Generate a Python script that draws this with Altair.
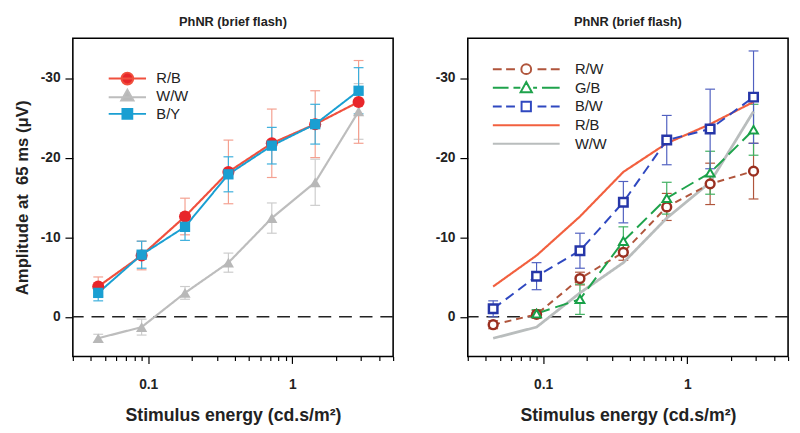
import altair as alt
import pandas as pd

# ---------------- data ----------------
energy = [0.045, 0.09, 0.18, 0.36, 0.72, 1.44, 2.88]

# left panel
rb_amp = [-3.8, -7.7, -12.6, -18.2, -21.8, -24.2, -27.0]
rb_err = [1.2, 1.8, 2.3, 4.0, 4.3, 4.2, 5.2]
ww_amp = [2.7, 1.3, -3.0, -6.8, -12.4, -16.9, -25.8]
ww_err = [0.5, 1.0, 0.8, 1.2, 1.9, 2.9, 3.5]
by_amp = [-3.0, -7.8, -11.3, -17.9, -21.5, -24.2, -28.4]
by_err = [1.0, 1.7, 1.7, 2.2, 2.3, 2.5, 2.9]

# right panel
rw_amp = [1.0, -0.3, -4.8, -8.1, -13.8, -16.7, -18.3]
rw_err = [0.5, 0.5, 0.8, 1.0, 1.7, 2.6, 3.5]
gb_energy = [0.09, 0.18, 0.36, 0.72, 1.44, 2.88]
gb_amp = [-0.4, -2.2, -9.5, -14.9, -18.1, -23.5]
gb_err = [0.5, 1.9, 1.8, 2.0, 2.7, 3.2]
bw_amp = [-1.0, -5.1, -8.3, -14.4, -22.2, -23.6, -27.6]
bw_err = [1.0, 1.7, 2.2, 2.6, 3.1, 5.0, 5.8]

left_names = ["R/B", "W/W", "B/Y"]
right_names = ["R/W", "G/B", "B/W", "R/B", "W/W"]

x_ticks = [0.03, 0.04, 0.05, 0.06, 0.07, 0.08, 0.09, 0.1, 0.2, 0.3, 0.4, 0.5,
           0.6, 0.7, 0.8, 0.9, 1, 2, 3, 4, 5]
y_ticks = [-30, -20, -10, 0]

panel_title = "PhNR (brief flash)"
x_title = "Stimulus energy (cd.s/m²)"
y_title = "Amplitude at\u00a0 65 ms (μV)"


def long_df(series):
    rows = []
    for name, xs, amps, errs in series:
        for xv, a, e in zip(xs, amps, errs):
            rows.append({"series": name, "energy": xv, "amp": a,
                         "lo": a - e, "hi": a + e})
    return pd.DataFrame(rows)


left_df = long_df([("R/B", energy, rb_amp, rb_err),
                   ("W/W", energy, ww_amp, ww_err),
                   ("B/Y", energy, by_amp, by_err)])
right_df = long_df([("R/W", energy, rw_amp, rw_err),
                    ("G/B", gb_energy, gb_amp, gb_err),
                    ("B/W", energy, bw_amp, bw_err),
                    ("R/B", energy, rb_amp, [0] * 7),
                    ("W/W", energy, ww_amp, [0] * 7)])
zero_df = pd.DataFrame({"amp": [0]})
legend_left_df = pd.DataFrame({"series": left_names})
legend_right_df = pd.DataFrame({"series": right_names})

# ---------------- styling ----------------
FONT = "Liberation Sans"

left_line = {"R/B": "#f0503e", "W/W": "#bdbdbd", "B/Y": "#1a9fd2"}
left_mark = {"R/B": "#e8262a", "W/W": "#b8b8b8", "B/Y": "#1a9fd2"}
left_errc = {"R/B": "#f4a090", "W/W": "#cccccc", "B/Y": "#3aaedc"}
right_line = {"R/W": "#b0553c", "G/B": "#1fa34c", "B/W": "#2f48c0",
              "R/B": "#f2603f", "W/W": "#b9bdbd"}
right_mark = {"R/W": "#9a2f20", "G/B": "#18a048", "B/W": "#2636a8"}
right_errc = {"R/W": "#b0553c", "G/B": "#3fb060", "B/W": "#5060c0"}

xscale = alt.Scale(type="log", domain=[0.03, 5], nice=False)
yscale = alt.Scale(domain=[-35, 5], reverse=True, nice=False, zero=False)

xaxis = alt.Axis(
    values=x_ticks,
    labelExpr="datum.value == 1 ? '1' : (datum.value == 0.1 ? '0.1' : '')",
    tickSize={"condition": {"test": "datum.value == 0.1 || datum.value == 1",
                            "value": 7}, "value": 4},
    tickColor="black", tickWidth=1.2, domain=False, grid=False,
    labelOverlap=False, labelFlush=False, labelPadding=15,
    labelFont=FONT, labelFontSize=14, labelFontWeight="bold", labelColor="#222",
    title=x_title, titleFont=FONT, titleFontSize=18, titleFontWeight="bold",
    titleColor="#222", titlePadding=15,
)


def yaxis(with_title):
    kw = dict(values=y_ticks, tickSize=8, tickColor="black", tickWidth=1.2,
              domain=False, grid=False, labelPadding=5,
              labelExpr="datum.value == 0 ? '0' : '-' + abs(datum.value)",
              labelFont=FONT, labelFontSize=14, labelFontWeight="bold",
              labelColor="#222")
    if with_title:
        kw.update(title=y_title, titleFont=FONT, titleFontSize=17,
                  titleFontWeight="bold", titleColor="#222", titlePadding=9)
    else:
        kw.update(title=None)
    return alt.Axis(**kw)


def X():
    return alt.X("energy:Q", scale=xscale, axis=xaxis)


def panel(df, with_ytitle, err_specs, line_specs, point_specs,
          legend_df, legend_paths, legend_fill, legend_stroke, legend_pos):
    ycol = lambda f: alt.Y(f, scale=yscale, axis=yaxis(with_ytitle))
    Y = ycol("amp:Q")

    layers = [alt.Chart(zero_df).mark_rule(strokeDash=[13, 8], color="#222",
                                           strokeWidth=1.6).encode(y=Y)]
    for name, col in err_specs:
        sub = alt.Chart(df).transform_filter(alt.datum.series == name)
        layers.append(sub.mark_rule(strokeWidth=1.2, color=col).encode(
            x=X(), y=ycol("lo:Q"), y2="hi:Q"))
        for f in ("lo:Q", "hi:Q"):
            layers.append(sub.mark_tick(orient="horizontal", size=10, thickness=1.2,
                                        opacity=1, color=col).encode(x=X(), y=ycol(f)))
    for name, dash, width, col in line_specs:
        layers.append(alt.Chart(df).transform_filter(alt.datum.series == name)
                      .mark_line(strokeWidth=width, strokeDash=dash, color=col)
                      .encode(x=X(), y=Y))
    for name, shape, size, filled, sw, col in point_specs:
        kw = dict(shape=shape, size=size, filled=filled, opacity=1, strokeWidth=sw, color=col)
        if not filled:
            kw["fill"] = "white"
        layers.append(alt.Chart(df).transform_filter(alt.datum.series == name)
                      .mark_point(**kw).encode(x=X(), y=Y))

    lx, ly, loff, rowpad, clip_h = legend_pos
    leg = alt.Legend(title=None, orient="none", legendX=lx, legendY=ly,
                     labelFont=FONT, labelFontSize=15, labelColor="#222",
                     labelOffset=loff, rowPadding=rowpad, symbolStrokeWidth=2,
                     padding=0, symbolOffset=0, clipHeight=clip_h)
    legnames = list(legend_df["series"])
    dummy = alt.Chart(legend_df).mark_point(filled=True, size=100, opacity=1,
                                            strokeWidth=2).encode(
        shape=alt.Shape("series:N", scale=alt.Scale(domain=legnames, range=legend_paths), legend=leg),
        fill=alt.Fill("series:N", scale=alt.Scale(domain=legnames, range=legend_fill), legend=leg),
        stroke=alt.Stroke("series:N", scale=alt.Scale(domain=legnames, range=legend_stroke), legend=leg),
    ).transform_filter("false")
    layers.append(dummy)
    return alt.layer(*layers).properties(
        width=326, height=324,
        title=alt.TitleParams(panel_title, font=FONT, fontSize=13, fontWeight="bold",
                              color="#222", offset=9, anchor="middle"))


# legend symbol paths (unit = 5 px), drawn to the right of the entry origin
circle_line = "M-1,0H6.6M1.6,0A1.2,1.2,0,1,1,4,0A1.2,1.2,0,1,1,1.6,0Z"
tri_line = "M-1,0.2H6.6M2.8,-1.3L4.05,0.9L1.55,0.9Z"
sq_line = "M-1,0H6.6M1.8,-1H3.8V1H1.8Z"
left_paths = [circle_line, tri_line, sq_line]

rw_path = ("M-1,0H0.8M1.7,0H3.5M8.1,0H9.9M10.8,0H12.6"
           "M4.8,0A1,1,0,1,1,6.8,0A1,1,0,1,1,4.8,0Z")
gb_path = ("M-1,0H2.2M3.2,0H4.6M7.2,0H8M9,0H12.6"
           "M5.8,-1.2L6.95,0.9L4.65,0.9Z")
bw_path = ("M-1,0H0.8M1.7,0H3.5M8.1,0H9.9M10.8,0H12.6"
           "M4.85,-0.95H6.75V0.95H4.85Z")
line_path = "M-1,0H12.6"
right_paths = [rw_path, gb_path, bw_path, line_path, line_path]

left = panel(
    left_df, True,
    err_specs=[(n, left_errc[n]) for n in ["W/W", "R/B", "B/Y"]],
    line_specs=[("W/W", [1, 0], 2.2, left_line["W/W"]),
                ("R/B", [1, 0], 2.2, left_line["R/B"]),
                ("B/Y", [1, 0], 2.0, left_line["B/Y"])],
    point_specs=[("W/W", "triangle-up", 130, True, 1, left_mark["W/W"]),
                 ("R/B", "circle", 150, True, 1, left_mark["R/B"]),
                 ("B/Y", "square", 110, True, 1, left_mark["B/Y"])],
    legend_df=legend_left_df, legend_paths=left_paths,
    legend_fill=[left_mark[n] for n in left_names],
    legend_stroke=[left_line[n] for n in left_names],
    legend_pos=(34, 32, 36, 0, 18),
)

right = panel(
    right_df, False,
    err_specs=[(n, right_errc[n]) for n in ["R/W", "G/B", "B/W"]],
    line_specs=[("W/W", [1, 0], 2.8, right_line["W/W"]),
                ("R/B", [1, 0], 2.2, right_line["R/B"]),
                ("R/W", [7, 5], 2.0, right_line["R/W"]),
                ("G/B", [14, 6], 2.0, right_line["G/B"]),
                ("B/W", [10, 6], 2.0, right_line["B/W"])],
    point_specs=[("R/W", "circle", 80, False, 2.5, right_mark["R/W"]),
                 ("G/B", "triangle-up", 80, False, 2, right_mark["G/B"]),
                 ("B/W", "square", 75, False, 2.5, right_mark["B/W"])],
    legend_df=legend_right_df, legend_paths=right_paths,
    legend_fill=["white"] * 5,
    legend_stroke=[right_line[n] for n in right_names],
    legend_pos=(23, 22, 71, 0, 19),
)

chart = alt.hconcat(left, right, spacing=39).resolve_scale(
    fill="independent", stroke="independent", shape="independent",
    x="independent", y="independent"
).resolve_legend(
    fill="independent", stroke="independent", shape="independent"
).properties(
    padding={"left": 4, "top": 4, "right": 2, "bottom": 2}, background="white"
).configure_view(stroke="black", strokeWidth=1.6)

chart.save("out.html", embed_options={"renderer": "svg", "actions": False})
